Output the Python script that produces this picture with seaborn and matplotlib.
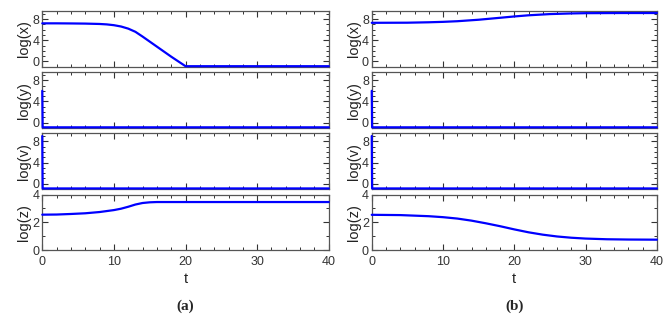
import numpy as np
import pandas as pd
import matplotlib.pyplot as plt
from matplotlib.ticker import MultipleLocator
import seaborn as sns

# panel (a)
ta_x = [0, 2, 4, 6, 8, 9, 10, 11, 12, 13, 14, 16, 18, 20, 40]
a_x = [7.2, 7.2, 7.18, 7.15, 7.08, 7.0, 6.85, 6.6, 6.2, 5.6, 4.7, 2.8, 0.9, -0.9, -0.9]
ta_y = [0, 0.05, 40]
a_y = [6.0, -0.9, -0.9]
ta_v = [0, 0.05, 40]
a_v = [9.0, -0.9, -0.9]
ta_z = [0, 2, 4, 6, 8, 10, 11, 12, 13, 14, 15, 16, 40]
a_z = [2.55, 2.56, 2.6, 2.65, 2.74, 2.88, 2.98, 3.12, 3.28, 3.39, 3.44, 3.46, 3.46]

# panel (b)
tb_x = [0, 5, 8, 10, 12, 15, 18, 20, 22, 25, 28, 30, 35, 40]
b_x = [7.3, 7.32, 7.4, 7.48, 7.6, 7.88, 8.25, 8.5, 8.72, 8.95, 9.07, 9.12, 9.15, 9.15]
tb_y = [0, 0.05, 40]
b_y = [6.0, -0.9, -0.9]
tb_v = [0, 0.05, 40]
b_v = [9.0, -0.9, -0.9]
tb_z = [0, 4, 8, 10, 12, 14, 16, 18, 20, 22, 24, 26, 28, 30, 33, 36, 40]
b_z = [2.54, 2.52, 2.44, 2.37, 2.27, 2.12, 1.93, 1.72, 1.49, 1.28, 1.11, 0.98, 0.89, 0.83, 0.78, 0.76, 0.75]

labels = ["log(x)", "log(y)", "log(v)", "log(z)"]

sns.set_style("ticks")
plt.rcParams['font.family'] = ['Liberation Sans', 'DejaVu Sans']

fig = plt.figure(figsize=(6.71, 3.19), dpi=100)

panels = [
    (0.063, 0.490, [(ta_x, a_x), (ta_y, a_y), (ta_v, a_v), (ta_z, a_z)], "(a)"),
    (0.554, 0.979, [(tb_x, b_x), (tb_y, b_y), (tb_v, b_v), (tb_z, b_z)], "(b)"),
]

for left, right, series, tag in panels:
    gs = fig.add_gridspec(4, 1, left=left, right=right, top=0.965, bottom=0.216, hspace=0.1)
    for i, (tt, vv) in enumerate(series):
        ax = fig.add_subplot(gs[i])
        df = pd.DataFrame({"t": tt, "val": vv})
        sns.lineplot(data=df, x="t", y="val", ax=ax, color="#0000ff", lw=1.6,
                     zorder=5, clip_on=False)
        ax.set_xlim(0, 40)
        if i < 3:
            ax.set_ylim(-1, 9.5)
            ax.set_yticks([0, 4, 8])
        else:
            ax.set_ylim(0, 4)
            ax.set_yticks([0, 2, 4])
        ax.yaxis.set_minor_locator(MultipleLocator(1))
        ax.xaxis.set_major_locator(MultipleLocator(10))
        ax.xaxis.set_minor_locator(MultipleLocator(2))
        ax.tick_params(which="both", direction="in", top=True, right=True,
                       labelsize=9, colors="#333333", pad=2)
        ax.tick_params(axis="x", pad=4)
        ax.tick_params(which="major", length=4, width=0.8)
        ax.tick_params(which="minor", length=2.5, width=0.7)
        for s in ax.spines.values():
            s.set_color("#555555")
            s.set_linewidth(0.9)
        ax.set_ylabel(labels[i], fontsize=10.5, labelpad=1, color="#222222")
        if i < 3:
            ax.set_xticklabels([])
            ax.set_xlabel("")
        else:
            ax.set_xlabel("t", fontsize=10.5, labelpad=3, color="#222222")
    fig.text((left + right) / 2, 0.04, tag, ha="center", va="center",
             fontsize=11, fontweight="bold", family=["Liberation Serif", "DejaVu Serif"])

fig.savefig("out.png", dpi=100)
